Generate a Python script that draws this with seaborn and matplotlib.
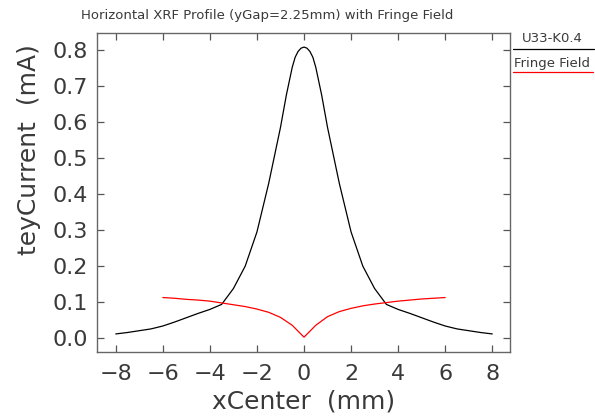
import numpy as np
import pandas as pd
import matplotlib
matplotlib.use("Agg")
import matplotlib.pyplot as plt
from matplotlib.lines import Line2D
import seaborn as sns

# Horizontal XRF profile, U33-K0.4 undulator
x_profile = [-8, -7.5, -7, -6.5, -6, -5.5, -5, -4.5, -4, -3.5, -3, -2.5, -2, -1.5,
             -1, -0.75, -0.5, -0.375, -0.25, -0.125, 0, 0.125, 0.25, 0.375, 0.5,
             0.75, 1, 1.5, 2, 2.5, 3, 3.5, 4, 4.5, 5, 5.5, 6, 6.5, 7, 7.5, 8]
y_profile = [0.012, 0.016, 0.021, 0.026, 0.034, 0.045, 0.057, 0.069, 0.080, 0.094,
             0.138, 0.200, 0.295, 0.430, 0.585, 0.675, 0.752, 0.780, 0.796, 0.805,
             0.808, 0.805, 0.796, 0.780, 0.752, 0.675, 0.585, 0.430, 0.295, 0.200,
             0.138, 0.094, 0.080, 0.069, 0.057, 0.045, 0.034, 0.026, 0.021, 0.016,
             0.012]

# Fringe field contribution
x_fringe = [-6, -5.5, -5, -4.5, -4, -3.5, -3, -2.5, -2, -1.5, -1, -0.5, 0,
            0.5, 1, 1.5, 2, 2.5, 3, 3.5, 4, 4.5, 5, 5.5, 6]
y_fringe = [0.113, 0.111, 0.108, 0.106, 0.103, 0.098, 0.093, 0.088, 0.081, 0.072,
            0.058, 0.036, 0.003, 0.036, 0.060, 0.074, 0.083, 0.090, 0.095, 0.099,
            0.103, 0.106, 0.109, 0.111, 0.113]

x_ticks = [-8, -6, -4, -2, 0, 2, 4, 6, 8]
y_ticks = [0.0, 0.1, 0.2, 0.3, 0.4, 0.5, 0.6, 0.7, 0.8]
series_names = ["U33-K0.4", "Fringe Field"]
series_colors = ["black", "red"]

sns.set_theme(style="white")
plt.rcParams["font.family"] = ["DejaVu Sans"]
text_color = "#3a3a3a"

df_profile = pd.DataFrame({"xCenter": x_profile, "teyCurrent": y_profile})
df_fringe = pd.DataFrame({"xCenter": x_fringe, "teyCurrent": y_fringe})

fig = plt.figure(figsize=(5.95, 4.18), dpi=100)
ax = fig.add_axes([0.1625, 0.158, 0.6945, 0.763])

sns.lineplot(data=df_profile, x="xCenter", y="teyCurrent", ax=ax,
             color=series_colors[0], linewidth=0.9, sort=False)
sns.lineplot(data=df_fringe, x="xCenter", y="teyCurrent", ax=ax,
             color=series_colors[1], linewidth=0.9, sort=False)

ax.set_xlim(-8.81, 8.75)
ax.set_ylim(-0.038, 0.847)
ax.set_xticks(x_ticks)
ax.set_yticks(y_ticks)
ax.set_xticklabels([f"{v:d}".replace("-", "\u2212") for v in x_ticks])
ax.set_yticklabels([f"{v:.1f}" for v in y_ticks])
ax.tick_params(axis="both", direction="in", length=5, width=0.9,
               color="#555555", labelsize=16, labelcolor=text_color,
               top=True, right=True, bottom=True, left=True)
ax.tick_params(axis="x", pad=9)
ax.tick_params(axis="y", pad=6)
for sp in ax.spines.values():
    sp.set_color("#666666")
    sp.set_linewidth(1.0)
ax.set_xlabel("")
ax.set_ylabel("")
ax.grid(False)

fig.text(0.511, 0.040, "xCenter  (mm)", ha="center", va="center",
         fontsize=18, color=text_color)
fig.text(0.049, 0.641, "teyCurrent  (mA)", ha="center", va="center",
         rotation=90, fontsize=18, color=text_color)
fig.text(0.449, 0.962, "Horizontal XRF Profile (yGap=2.25mm) with Fringe Field",
         ha="center", va="center", fontsize=9.5, color=text_color)

# Legend column on the right of the frame
fig.text(0.928, 0.909, series_names[0], ha="center", va="center",
         fontsize=9.5, color=text_color)
fig.add_artist(Line2D([0.862, 0.998], [0.883, 0.883], color=series_colors[0],
                      linewidth=0.9, transform=fig.transFigure))
fig.text(0.928, 0.849, series_names[1], ha="center", va="center",
         fontsize=9.5, color=text_color)
fig.add_artist(Line2D([0.862, 0.996], [0.828, 0.828], color=series_colors[1],
                      linewidth=0.9, transform=fig.transFigure))

fig.savefig("out.png", dpi=100)
